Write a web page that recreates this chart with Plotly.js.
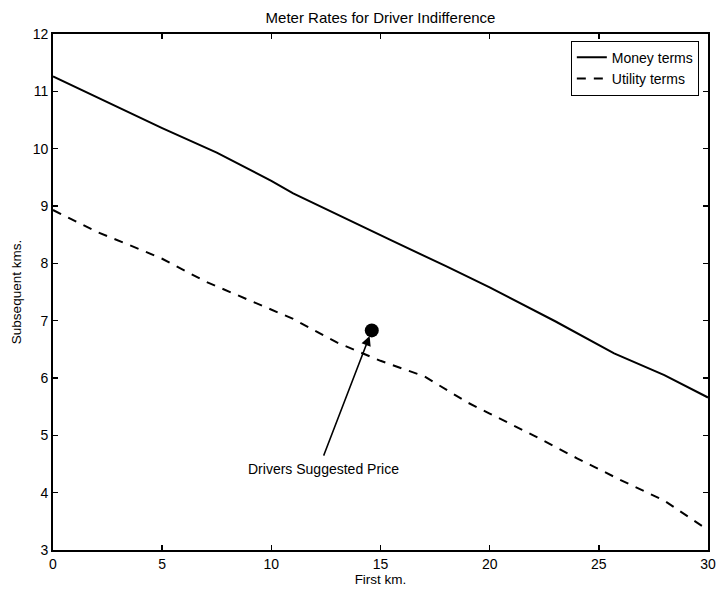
<!DOCTYPE html>
<html>
<head>
<meta charset="utf-8">
<script src="https://cdn.plot.ly/plotly-3.0.1.min.js"></script>
<style>html,body{margin:0;padding:0;background:#fff;}#chart{width:719px;height:592px;}</style>
</head>
<body>
<div id="chart"></div>
<script>
// Money terms curve
var moneyX = [0, 2.5, 5, 7.5, 10, 11, 13, 15.5, 18, 20, 23, 25.7, 28, 30];
var moneyY = [11.26, 10.81, 10.36, 9.93, 9.44, 9.22, 8.85, 8.40, 7.95, 7.58, 6.99, 6.43, 6.05, 5.66];
// Utility terms curve
var utilX = [0, 2, 4, 5, 7, 9, 11, 13, 15, 17, 19, 20, 22, 24, 26, 28, 30];
var utilY = [8.93, 8.55, 8.24, 8.08, 7.68, 7.36, 7.03, 6.62, 6.3, 6.03, 5.57, 5.38, 5.0, 4.6, 4.22, 3.86, 3.35];
// Suggested price point
var pointX = [14.6];
var pointY = [6.83];
var labelX = 12.37, labelY = 4.42;
var tailX = 12.37, tailY = 4.62;
var xTicks = [0, 5, 10, 15, 20, 25, 30];
var yTicks = [3, 4, 5, 6, 7, 8, 9, 10, 11, 12];

var fontFam = 'Liberation Sans, Arial, Helvetica, sans-serif';

var traces = [
  {x: moneyX, y: moneyY, mode: 'lines', name: 'Money terms',
   line: {color: '#000', width: 2, dash: 'solid'}},
  {x: utilX, y: utilY, mode: 'lines', name: 'Utility terms',
   line: {color: '#000', width: 2, dash: '9px,8px'}},
  {x: pointX, y: pointY, mode: 'markers', showlegend: false,
   marker: {color: '#000', size: 14, symbol: 'circle'}}
];

var layout = {
  width: 719, height: 592,
  margin: {l: 53, r: 11, t: 34, b: 42, pad: 0},
  paper_bgcolor: '#fff', plot_bgcolor: '#fff',
  font: {family: fontFam, size: 14, color: '#000'},
  title: {text: 'Meter Rates for Driver Indifference', xref: 'paper', x: 0.5, xanchor: 'center',
          yref: 'container', y: 0.97, yanchor: 'middle',
          font: {family: fontFam, size: 15, color: '#000'}},
  xaxis: {range: [0, 30], tickvals: xTicks, ticktext: xTicks.map(String),
          ticks: 'inside', ticklen: 5, tickwidth: 1.5, tickcolor: '#000',
          showline: true, linecolor: '#000', linewidth: 1.8, mirror: 'ticks',
          showgrid: false, zeroline: false,
          tickfont: {family: fontFam, size: 14, color: '#000'},
          title: {text: 'First km.', standoff: 1, font: {family: fontFam, size: 13.5, color: '#000'}}},
  yaxis: {range: [3, 12], tickvals: yTicks, ticktext: yTicks.map(String),
          ticks: 'inside', ticklen: 5, tickwidth: 1.5, tickcolor: '#000',
          showline: true, linecolor: '#000', linewidth: 1.8, mirror: 'ticks',
          showgrid: false, zeroline: false,
          tickfont: {family: fontFam, size: 14, color: '#000'},
          title: {text: 'Subsequent kms.', standoff: 8, font: {family: fontFam, size: 13.5, color: '#000'}}},
  legend: {x: 0.986, y: 0.987, xanchor: 'right', yanchor: 'top',
           bgcolor: '#fff', bordercolor: '#000', borderwidth: 1,
           font: {family: fontFam, size: 14, color: '#000'},
           tracegroupgap: 0, itemwidth: 30},
  annotations: [
    {x: pointX[0], y: pointY[0], xref: 'x', yref: 'y',
     ax: tailX, ay: tailY, axref: 'x', ayref: 'y',
     text: '', showarrow: true, arrowhead: 2, arrowsize: 1.3, arrowwidth: 1.5,
     arrowcolor: '#000', standoff: 6},
    {x: labelX, y: labelY, xref: 'x', yref: 'y', text: 'Drivers Suggested Price',
     showarrow: false, xanchor: 'center', yanchor: 'middle',
     font: {family: fontFam, size: 14, color: '#000'}}
  ]
};

Plotly.newPlot('chart', traces, layout, {displayModeBar: false, staticPlot: true});
</script>
</body>
</html>
